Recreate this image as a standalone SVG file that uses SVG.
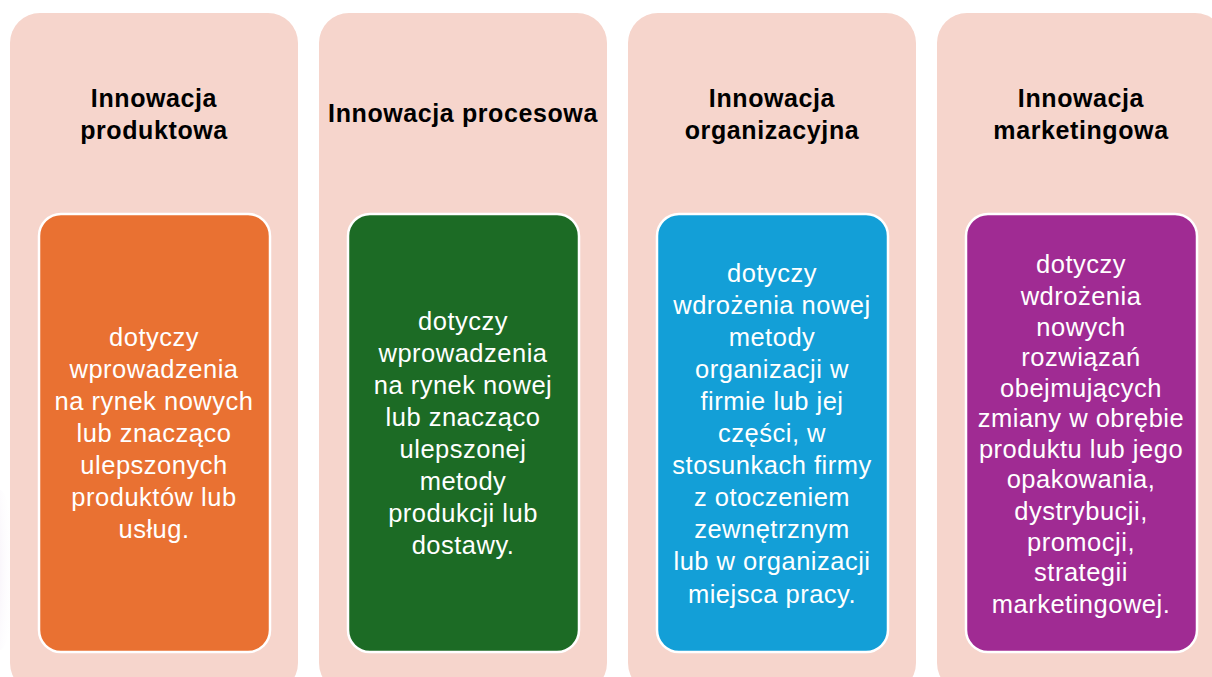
<svg xmlns="http://www.w3.org/2000/svg" width="1212" height="677" viewBox="0 0 1212 677">
<style>
.outer{fill:#F6D5CC}
.inner{stroke:#FFFFFF;stroke-width:2.5}
.title{font-family:"Liberation Sans",Arial,sans-serif;font-weight:bold;font-size:25px;letter-spacing:0.6px;fill:#000;text-anchor:middle}
.body{font-family:"Liberation Sans",Arial,sans-serif;font-size:25.5px;letter-spacing:0.5px;fill:#FFFFFF;text-anchor:middle}
</style>
<defs>
<radialGradient id="glow" cx="0" cy="0.5" r="1">
<stop offset="0" stop-color="#E8D8EE" stop-opacity="0.9"/>
<stop offset="1" stop-color="#FFFFFF" stop-opacity="0"/>
</radialGradient>
</defs>
<rect x="0" y="0" width="1212" height="677" fill="#FFFFFF"/>
<ellipse cx="0" cy="570" rx="14" ry="80" fill="url(#glow)"/>
<g id="col1">
<rect class="outer" x="10" y="13" width="288" height="680" rx="30"/>
<text class="title" x="154" y="107">Innowacja</text>
<text class="title" x="154" y="139">produktowa</text>
<rect class="inner" x="39" y="214" width="231" height="438" rx="22" fill="#E97132"/>
<text class="body" x="154" y="346">dotyczy</text>
<text class="body" x="154" y="378">wprowadzenia</text>
<text class="body" x="154" y="410">na rynek nowych</text>
<text class="body" x="154" y="442">lub znacząco</text>
<text class="body" x="154" y="474">ulepszonych</text>
<text class="body" x="154" y="506">produktów lub</text>
<text class="body" x="154" y="538">usług.</text>
</g>
<g id="col2">
<rect class="outer" x="319" y="13" width="288" height="680" rx="30"/>
<text class="title" x="463" y="122">Innowacja procesowa</text>
<rect class="inner" x="348" y="214" width="231" height="438" rx="22" fill="#1C6B25"/>
<text class="body" x="463" y="330">dotyczy</text>
<text class="body" x="463" y="362">wprowadzenia</text>
<text class="body" x="463" y="394">na rynek nowej</text>
<text class="body" x="463" y="426">lub znacząco</text>
<text class="body" x="463" y="458">ulepszonej</text>
<text class="body" x="463" y="490">metody</text>
<text class="body" x="463" y="522">produkcji lub</text>
<text class="body" x="463" y="554">dostawy.</text>
</g>
<g id="col3">
<rect class="outer" x="628" y="13" width="288" height="680" rx="30"/>
<text class="title" x="772" y="107">Innowacja</text>
<text class="title" x="772" y="139">organizacyjna</text>
<rect class="inner" x="657" y="214" width="231" height="438" rx="22" fill="#139FD7"/>
<text class="body" x="772" y="282">dotyczy</text>
<text class="body" x="772" y="314">wdrożenia nowej</text>
<text class="body" x="772" y="346">metody</text>
<text class="body" x="772" y="378">organizacji w</text>
<text class="body" x="772" y="410">firmie lub jej</text>
<text class="body" x="772" y="442">części, w</text>
<text class="body" x="772" y="474">stosunkach firmy</text>
<text class="body" x="772" y="506">z otoczeniem</text>
<text class="body" x="772" y="538">zewnętrznym</text>
<text class="body" x="772" y="570">lub w organizacji</text>
<text class="body" x="772" y="603">miejsca pracy.</text>
</g>
<g id="col4">
<rect class="outer" x="937" y="13" width="288" height="680" rx="30"/>
<text class="title" x="1081" y="107">Innowacja</text>
<text class="title" x="1081" y="139">marketingowa</text>
<rect class="inner" x="966" y="214" width="231" height="438" rx="22" fill="#A02B93"/>
<text class="body" x="1081" y="273">dotyczy</text>
<text class="body" x="1081" y="305">wdrożenia</text>
<text class="body" x="1081" y="336">nowych</text>
<text class="body" x="1081" y="366">rozwiązań</text>
<text class="body" x="1081" y="397">obejmujących</text>
<text class="body" x="1081" y="427">zmiany w obrębie</text>
<text class="body" x="1081" y="458">produktu lub jego</text>
<text class="body" x="1081" y="488">opakowania,</text>
<text class="body" x="1081" y="520">dystrybucji,</text>
<text class="body" x="1081" y="551">promocji,</text>
<text class="body" x="1081" y="581">strategii</text>
<text class="body" x="1081" y="613">marketingowej.</text>
</g>
</svg>
